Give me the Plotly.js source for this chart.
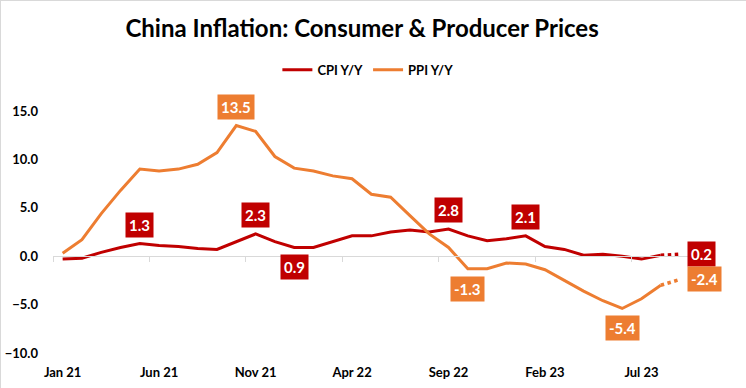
<!DOCTYPE html>
<html>
<head>
<meta charset="utf-8">
<script src="https://cdn.plot.ly/plotly-3.0.1.min.js"></script>
<style>
html,body{margin:0;padding:0;background:#fff;}
#chart{width:746px;height:388px;box-sizing:border-box;border:1px solid #d9d9d9;}
</style>
</head>
<body>
<div id="chart"></div>
<script>
const months = ["Jan 21","Feb 21","Mar 21","Apr 21","May 21","Jun 21","Jul 21","Aug 21","Sep 21","Oct 21","Nov 21","Dec 21",
  "Jan 22","Feb 22","Mar 22","Apr 22","May 22","Jun 22","Jul 22","Aug 22","Sep 22","Oct 22","Nov 22","Dec 22",
  "Jan 23","Feb 23","Mar 23","Apr 23","May 23","Jun 23","Jul 23","Aug 23","Sep 23"];
const cpi = [-0.3,-0.2,0.4,0.9,1.3,1.1,1.0,0.8,0.7,1.5,2.3,1.5,
  0.9,0.9,1.5,2.1,2.1,2.5,2.7,2.5,2.8,2.1,1.6,1.8,
  2.1,1.0,0.7,0.1,0.2,0.0,-0.3,0.1,0.2];
const ppi = [0.3,1.7,4.4,6.8,9.0,8.8,9.0,9.5,10.7,13.5,12.9,10.3,
  9.1,8.8,8.3,8.0,6.4,6.1,4.2,2.3,0.9,-1.3,-1.3,-0.7,
  -0.8,-1.4,-2.5,-3.6,-4.6,-5.4,-4.4,-3.0,-2.4];
const tickLabelEvery = 5;
// data labels: [month index, position]
const cpiLabels = [[4,"above"],[10,"above"],[12,"below"],[20,"above"],[24,"above"],[32,"right"]];
const ppiLabels = [[9,"above"],[21,"below"],[29,"below"],[32,"right"]];

const CPI_COLOR = "#C00000";
const PPI_COLOR = "#ED7D31";
const FONT = "Lato, 'Open Sans', sans-serif";

const idx = months.map((m,i)=>i);
const nSolid = months.length - 1; // last point is a projection

const traces = [
  {x: idx.slice(0,nSolid), y: cpi.slice(0,nSolid), name:"<b>CPI Y/Y</b>", type:"scatter", mode:"lines",
   line:{color:CPI_COLOR,width:3}},
  {x: idx.slice(0,nSolid), y: ppi.slice(0,nSolid), name:"<b>PPI Y/Y</b>", type:"scatter", mode:"lines",
   line:{color:PPI_COLOR,width:3}},
  {x: idx.slice(nSolid-1), y: cpi.slice(nSolid-1), showlegend:false, type:"scatter", mode:"lines",
   line:{color:CPI_COLOR,width:3.5,dash:"dot"}, xaxis:"x2"},
  {x: idx.slice(nSolid-1), y: ppi.slice(nSolid-1), showlegend:false, type:"scatter", mode:"lines",
   line:{color:PPI_COLOR,width:3.5,dash:"dot"}, xaxis:"x2"}
];

function mkLabel(vals, color, i, pos){
  const a = {x:i, y:vals[i], xref:"x", yref:"y", text:"<b>"+vals[i].toFixed(1)+"</b>",
    showarrow:false, bgcolor:color, borderpad:3,
    font:{family:FONT,size:15,color:"#fff"}};
  if(pos==="above"){a.yshift=19;}
  else if(pos==="below"){a.yshift=-20;}
  else {a.xanchor="left"; a.xshift=7;}
  return a;
}
const annotations = [];
cpiLabels.forEach(([i,p])=>annotations.push(mkLabel(cpi,CPI_COLOR,i,p)));
ppiLabels.forEach(([i,p])=>annotations.push(mkLabel(ppi,PPI_COLOR,i,p)));

const labTicks = idx.filter(i=>i%tickLabelEvery===0);
const boundaryTicks = labTicks.map(i=>i-0.5);
const xr = [-0.5, months.length + 0.5];

const layout = {
  width:746, height:388,
  margin:{l:52,r:38,t:110,b:36},
  paper_bgcolor:"#fff", plot_bgcolor:"#fff",
  font:{family:FONT,color:"#000"},
  title:{text:"<b>China Inflation: Consumer & Producer Prices</b>", font:{family:FONT,size:24,color:"#000"},
    x:0.484, xanchor:"center", y:0.93, yanchor:"middle", yref:"container", xref:"container"},
  showlegend:true,
  legend:{orientation:"h", x:0.48, xanchor:"center", y:1.17, yanchor:"middle",
    font:{family:FONT,size:13,color:"#000"}, itemwidth:30, tracegroupgap:0},
  xaxis:{range:xr, tickmode:"array", tickvals:labTicks, ticktext:labTicks.map(i=>"<b>"+months[i]+"</b>"),
    showgrid:false, zeroline:false, showline:false, ticks:"", ticklabelstandoff:10,
    tickfont:{family:FONT,size:13,color:"#000"}},
  xaxis2:{range:xr, overlaying:"x", anchor:"free", position:0.4, tickmode:"array", tickvals:boundaryTicks,
    showticklabels:false, showgrid:false, zeroline:false, showline:true, linecolor:"#d9d9d9", linewidth:1,
    ticks:"outside", ticklen:5, tickcolor:"#d9d9d9"},
  yaxis:{range:[-10,15], tickmode:"linear", tick0:-10, dtick:5, tickformat:".1f",
    showgrid:false, zeroline:false, showline:false, ticks:"",
    tickfont:{family:FONT,size:13,color:"#000",weight:"bold"}, ticklabelstandoff:14},
  annotations:annotations
};
Plotly.newPlot("chart", traces, layout, {displayModeBar:false, staticPlot:true});
</script>
</body>
</html>
